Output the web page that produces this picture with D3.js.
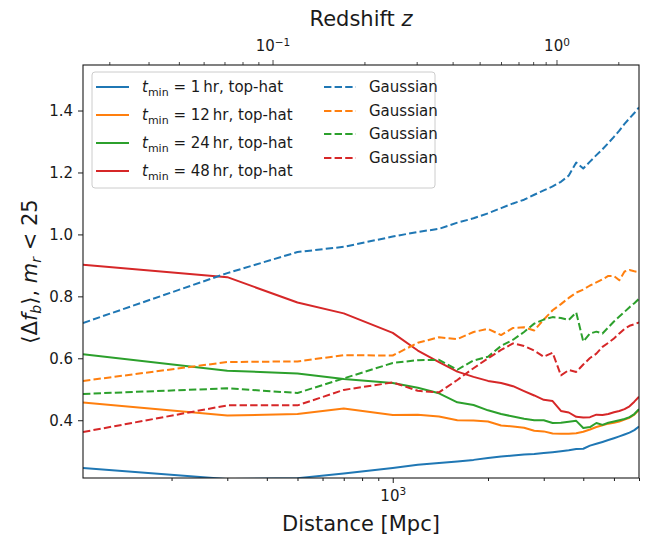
<!DOCTYPE html>
<html>
<head>
<meta charset="utf-8">
<script src="https://cdn.jsdelivr.net/npm/d3@7"></script>
<style>
  body { margin: 0; background: #fff; }
  svg { color: #1a1a1a; }
  text { font-family: "DejaVu Sans", sans-serif; fill: #1a1a1a; }
</style>
</head>
<body>
<div id="chart"></div>
<script>
// distances (Mpc) shared by every curve
var distance = [105, 300, 500, 700, 1000, 1200, 1400, 1600, 1800, 2000, 2200, 2400, 2600, 2800, 3000,
                3200, 3400, 3600, 3800, 4000, 4200, 4400, 4600, 4800, 5000, 5200, 5400, 5600, 5800, 6000];

// top-hat curves
var hat1  = [0.246, 0.210, 0.213, 0.228, 0.246, 0.256, 0.262, 0.267, 0.272, 0.278, 0.283, 0.286, 0.289, 0.291, 0.294,
             0.297, 0.300, 0.303, 0.307, 0.308, 0.318, 0.324, 0.330, 0.336, 0.342, 0.348, 0.354, 0.360, 0.368, 0.380];
var hat12 = [0.457, 0.415, 0.420, 0.438, 0.417, 0.418, 0.412, 0.400, 0.399, 0.396, 0.383, 0.380, 0.376, 0.366, 0.364,
             0.357, 0.356, 0.356, 0.358, 0.363, 0.370, 0.378, 0.384, 0.389, 0.392, 0.396, 0.402, 0.408, 0.418, 0.434];
var hat24 = [0.613, 0.560, 0.551, 0.533, 0.520, 0.505, 0.487, 0.458, 0.449, 0.432, 0.420, 0.412, 0.405, 0.400, 0.400,
             0.391, 0.392, 0.395, 0.398, 0.375, 0.378, 0.391, 0.385, 0.392, 0.396, 0.400, 0.404, 0.410, 0.420, 0.436];
var hat48 = [0.902, 0.862, 0.780, 0.745, 0.682, 0.625, 0.588, 0.557, 0.540, 0.527, 0.520, 0.510, 0.494, 0.480, 0.466,
             0.462, 0.430, 0.425, 0.411, 0.409, 0.410, 0.418, 0.417, 0.420, 0.426, 0.430, 0.436, 0.445, 0.460, 0.476];

// gaussian curves
var gau1  = [0.714, 0.875, 0.943, 0.960, 0.993, 1.008, 1.018, 1.038, 1.052, 1.068, 1.085, 1.100, 1.112, 1.128, 1.142,
             1.155, 1.170, 1.190, 1.232, 1.213, 1.235, 1.256, 1.275, 1.295, 1.315, 1.335, 1.357, 1.375, 1.392, 1.410];
var gau12 = [0.527, 0.588, 0.590, 0.610, 0.609, 0.650, 0.668, 0.662, 0.685, 0.695, 0.675, 0.698, 0.700, 0.690, 0.725,
             0.755, 0.775, 0.795, 0.812, 0.822, 0.835, 0.845, 0.855, 0.866, 0.866, 0.852, 0.880, 0.885, 0.881, 0.878];
var gau24 = [0.485, 0.503, 0.488, 0.535, 0.585, 0.594, 0.595, 0.563, 0.593, 0.605, 0.640, 0.660, 0.685, 0.712, 0.725,
             0.733, 0.730, 0.724, 0.748, 0.654, 0.680, 0.686, 0.680, 0.700, 0.719, 0.735, 0.750, 0.765, 0.778, 0.792];
var gau48 = [0.362, 0.448, 0.448, 0.498, 0.522, 0.495, 0.490, 0.530, 0.568, 0.600, 0.627, 0.648, 0.640, 0.625, 0.605,
             0.618, 0.545, 0.562, 0.556, 0.580, 0.601, 0.615, 0.637, 0.650, 0.664, 0.680, 0.695, 0.705, 0.710, 0.716];

var tmins = [1, 12, 24, 48];
var colors = ["#1f77b4", "#ff7f0e", "#2ca02c", "#d62728"];

var yTicks = [0.4, 0.6, 0.8, 1.0, 1.2, 1.4];
var xMajor = [1000];
var xMinor = [200, 300, 400, 500, 600, 700, 800, 900, 2000, 3000, 4000, 5000, 6000];
var zMajor = [0.1, 1];
var zMinor = [0.03, 0.04, 0.05, 0.06, 0.07, 0.08, 0.09, 0.2, 0.3, 0.4, 0.5, 0.6, 0.7, 0.8, 0.9, 2];

var width = 655, height = 538;
var margin = {top: 65, right: 16, bottom: 60, left: 83};
var iw = width - margin.left - margin.right,
    ih = height - margin.top - margin.bottom;

var svg = d3.select("#chart").append("svg")
    .attr("width", width)
    .attr("height", height);

var x = d3.scaleLog().domain([distance[0], distance[distance.length - 1]]).range([0, iw]);
var y = d3.scaleLinear().domain([0.2135, 1.547]).range([ih, 0]);

// comoving distance for flat LCDM (H0=70, Om=0.3), used for the redshift axis
function comoving(z) {
    var n = 200, h = z / n, s = 0;
    var invE = function(t) { return 1 / Math.sqrt(0.3 * Math.pow(1 + t, 3) + 0.7); };
    for (var i = 0; i <= n; i++) {
        var w = (i == 0 || i == n) ? 1 : (i % 2 ? 4 : 2);
        s += w * invE(i * h);
    }
    return 299792.458 / 70 * s * h / 3;
}

var g = svg.append("g")
    .attr("transform", "translate(" + margin.left + "," + margin.top + ")");

g.append("clipPath").attr("id", "clip")
  .append("rect").attr("width", iw).attr("height", ih);

var series = [
    {vals: hat1, c: 0, dash: null}, {vals: hat12, c: 1, dash: null},
    {vals: hat24, c: 2, dash: null}, {vals: hat48, c: 3, dash: null},
    {vals: gau1, c: 0, dash: "7.4,3.2"}, {vals: gau12, c: 1, dash: "7.4,3.2"},
    {vals: gau24, c: 2, dash: "7.4,3.2"}, {vals: gau48, c: 3, dash: "7.4,3.2"}
];

var line = d3.line()
    .x(function(d, i) { return x(distance[i]); })
    .y(function(d) { return y(d); });

g.append("g").attr("clip-path", "url(#clip)")
  .selectAll("path")
  .data(series)
  .enter().append("path")
    .attr("d", function(s) { return line(s.vals); })
    .attr("fill", "none")
    .attr("stroke", function(s) { return colors[s.c]; })
    .attr("stroke-width", 2)
    .attr("stroke-dasharray", function(s) { return s.dash; })
    .attr("stroke-linejoin", "round");

// y axis
var yAxis = g.append("g")
    .call(d3.axisLeft(y).tickValues(yTicks).tickFormat(d3.format(".1f")).tickSize(5).tickPadding(5));
yAxis.select(".domain").remove();
yAxis.selectAll("text").attr("font-size", "15px").attr("font-family", "DejaVu Sans").attr("dy", "0.36em");

// bottom axis
var xMin = g.append("g").attr("transform", "translate(0," + ih + ")")
    .call(d3.axisBottom(x).tickValues(xMinor).tickFormat("").tickSize(3));
xMin.select(".domain").remove();
var xMaj = g.append("g").attr("transform", "translate(0," + ih + ")")
    .call(d3.axisBottom(x).tickValues(xMajor).tickSize(5).tickPadding(7));
xMaj.select(".domain").remove();
xMaj.selectAll("text").text(null).attr("font-size", "15px").attr("font-family", "DejaVu Sans")
  .each(function(d) {
      var t = d3.select(this);
      t.append("tspan").text("10");
      t.append("tspan").attr("dy", "-0.5em").attr("font-size", "10.5px").text(Math.round(Math.log10(d)));
  });

// top (redshift) axis
var zAxisG = g.append("g");
zAxisG.selectAll(".zmin").data(zMinor).enter().append("line")
    .attr("x1", function(z) { return x(comoving(z)); })
    .attr("x2", function(z) { return x(comoving(z)); })
    .attr("y1", 0).attr("y2", -3).attr("stroke", "#1a1a1a").attr("stroke-width", 0.8);
zAxisG.selectAll(".zmaj").data(zMajor).enter().append("line")
    .attr("x1", function(z) { return x(comoving(z)); })
    .attr("x2", function(z) { return x(comoving(z)); })
    .attr("y1", 0).attr("y2", -5).attr("stroke", "#1a1a1a").attr("stroke-width", 0.8);
zAxisG.selectAll(".zlab").data(zMajor).enter().append("text")
    .attr("x", function(z) { return x(comoving(z)); })
    .attr("y", -14)
    .attr("text-anchor", "middle")
    .attr("font-size", "15px")
    .each(function(z) {
        var t = d3.select(this);
        t.append("tspan").text("10");
        t.append("tspan").attr("dy", "-0.5em").attr("font-size", "10.5px")
          .text(String(Math.round(Math.log10(z))).replace("-", "\u2212"));
    });

// frame
g.append("rect").attr("width", iw).attr("height", ih)
    .attr("fill", "none").attr("stroke", "#1a1a1a").attr("stroke-width", 1.1);

// axis titles
svg.append("text")
    .attr("x", 361).attr("y", 26)
    .attr("text-anchor", "middle").attr("font-size", "21px")
    .html('Redshift <tspan font-style="italic">z</tspan>');

svg.append("text")
    .attr("x", 361).attr("y", 531)
    .attr("text-anchor", "middle").attr("font-size", "21px")
    .text("Distance [Mpc]");

svg.append("text")
    .attr("transform", "translate(37," + (margin.top + ih / 2) + ") rotate(-90)")
    .attr("text-anchor", "middle").attr("font-size", "21px")
    .html('\u27E8\u0394<tspan font-style="italic">f</tspan><tspan font-style="italic" font-size="14px" dy="4">b</tspan>' +
          '<tspan dy="-4">\u27E9, </tspan><tspan font-style="italic">m</tspan>' +
          '<tspan font-style="italic" font-size="14px" dy="4">r</tspan><tspan dy="-4"> &lt; 25</tspan>');

// legend
var leg = g.append("g").attr("transform", "translate(9,7)");
leg.append("rect").attr("width", 343).attr("height", 116).attr("rx", 3)
    .attr("fill", "white").attr("fill-opacity", 0.8)
    .attr("stroke", "#cccccc").attr("stroke-width", 1);

var leftRows = [15, 43, 71, 99];
var rightRows = [15, 39, 62, 86];

tmins.forEach(function(t, i) {
    leg.append("line").attr("x1", 4).attr("x2", 37).attr("y1", leftRows[i]).attr("y2", leftRows[i])
        .attr("stroke", colors[i]).attr("stroke-width", 2);
    leg.append("text").attr("x", 50).attr("y", leftRows[i] + 5).attr("font-size", "15px")
        .html('<tspan font-style="italic">t</tspan><tspan font-size="11px" dy="4">min</tspan>' +
              '<tspan dy="-4"> = ' + t + '\u2009hr, top-hat</tspan>');

    leg.append("line").attr("x1", 232).attr("x2", 264).attr("y1", rightRows[i]).attr("y2", rightRows[i])
        .attr("stroke", colors[i]).attr("stroke-width", 2).attr("stroke-dasharray", "7.4,3.2");
    leg.append("text").attr("x", 277).attr("y", rightRows[i] + 5).attr("font-size", "15px")
        .text("Gaussian");
});
</script>
</body>
</html>
